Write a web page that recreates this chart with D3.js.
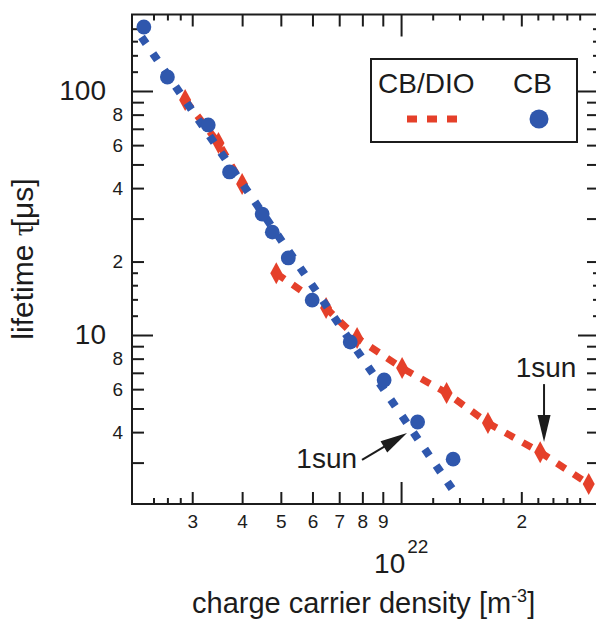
<!DOCTYPE html>
<html>
<head>
<meta charset="utf-8">
<script src="https://cdn.jsdelivr.net/npm/d3@7"></script>
<style>
  body { margin: 0; background: #fff; }
  svg { display: block; }
  text { font-family: "Liberation Sans", Arial, Helvetica, sans-serif; fill: #1c1c1c; }
</style>
</head>
<body>
<svg id="chart" width="596" height="622"></svg>
<script>
// CB/DIO blend: charge carrier density [m^-3] vs. lifetime [µs].
// dioSegment splits the trace into two separately connected runs.
const dioDensity  = [2.88e21, 3.49e21, 4.00e21, 4.87e21, 6.49e21, 7.76e21, 1.006e22, 1.30e22, 1.65e22, 2.23e22, 2.95e22];
const dioLifetime = [91.9, 61.2, 41.6, 17.9, 12.9, 9.72, 7.32, 5.79, 4.36, 3.31, 2.45];
const dioSegment  = [0, 0, 0, 1, 1, 1, 1, 1, 1, 1, 1];

// CB only
const cbDensity  = [2.27e21, 2.60e21, 3.29e21, 3.72e21, 4.49e21, 4.76e21, 5.22e21, 5.99e21, 7.46e21, 9.07e21, 1.10e22, 1.35e22];
const cbLifetime = [182.9, 114.1, 72.6, 46.6, 31.3, 26.4, 20.7, 13.9, 9.36, 6.54, 4.40, 3.10];

// power-law fit to the CB data (end points of the fitted line)
const cbFitDensity  = [2.24e21, 1.365e22];
const cbFitLifetime = [166.4, 2.25];

// one-sun operating points marked by arrows
const sunLabels   = ["1sun", "1sun"];
const sunDensity  = [1.035e22, 2.28e22];
const sunLifetime = [3.97, 3.64];

// axis ticks
const xMajorTicks  = [1e22];
const xMidTicks    = [3e21, 4e21, 5e21, 6e21, 7e21, 8e21, 9e21, 2e22];
const xMidLabels   = ["3", "4", "5", "6", "7", "8", "9", "2"];
const xMinorTicks  = [2.4e21, 2.6e21, 2.8e21, 1.2e22, 1.4e22, 1.6e22, 1.8e22, 2.2e22, 2.4e22, 2.6e22, 2.8e22];
const yMajorTicks  = [10, 100];
const yMajorLabels = ["10", "100"];
const yMidTicks    = [3, 4, 5, 6, 7, 8, 9, 20, 30, 40, 50, 60, 70, 80, 90];
const yMidLabels   = ["", "4", "", "6", "", "8", "", "2", "", "4", "", "6", "", "8", ""];
const yMinorTicks  = [12, 14, 16, 18, 120, 140, 160, 180];

const RED = "#e5402a", BLUE = "#2f57ad", INK = "#1c1c1c";

const svg = d3.select("#chart");
const plotLeft = 132, plotRight = 599, plotTop = 14.5, plotBottom = 504;

const x = d3.scaleLog().domain([2.12e21, 3.13e22]).range([plotLeft, plotRight]);
const y = d3.scaleLog().domain([2.03, 205.8]).range([plotBottom, plotTop]);

// ---- axes (ticks on all four sides, pointing inward) ----
function styleAxis(g) {
  g.select(".domain").remove();
  g.selectAll(".tick line").attr("stroke", INK).attr("stroke-width", 2);
}

function tickFmt(values, labels) {
  return d => { const i = values.indexOf(d); return i < 0 ? "" : labels[i]; };
}

// bottom
svg.append("g").attr("transform", `translate(0,${plotBottom})`)
  .call(d3.axisBottom(x).tickValues(xMajorTicks).tickSize(-22).tickFormat(""))
  .call(styleAxis);
svg.append("g").attr("transform", `translate(0,${plotBottom})`)
  .call(d3.axisBottom(x).tickValues(xMidTicks).tickSize(-12).tickPadding(11)
    .tickFormat(tickFmt(xMidTicks, xMidLabels)))
  .call(styleAxis)
  .call(g => g.selectAll("text").style("font-size", "19px").attr("fill", INK));
svg.append("g").attr("transform", `translate(0,${plotBottom})`)
  .call(d3.axisBottom(x).tickValues(xMinorTicks).tickSize(-6).tickFormat(""))
  .call(styleAxis);

// top (mirror)
[[xMajorTicks, 22], [xMidTicks, 12], [xMinorTicks, 6]].forEach(([vals, len]) => {
  svg.append("g").attr("transform", `translate(0,${plotTop})`)
    .call(d3.axisTop(x).tickValues(vals).tickSize(-len).tickFormat(""))
    .call(styleAxis);
});

// left
svg.append("g").attr("transform", `translate(${plotLeft},0)`)
  .call(d3.axisLeft(y).tickValues(yMajorTicks).tickSize(-21).tickPadding(26)
    .tickFormat(tickFmt(yMajorTicks, yMajorLabels)))
  .call(styleAxis)
  .call(g => g.selectAll("text").style("font-size", "28px").attr("fill", INK));
svg.append("g").attr("transform", `translate(${plotLeft},0)`)
  .call(d3.axisLeft(y).tickValues(yMidTicks).tickSize(-12).tickPadding(9)
    .tickFormat(tickFmt(yMidTicks, yMidLabels)))
  .call(styleAxis)
  .call(g => g.selectAll("text").style("font-size", "19px").attr("fill", INK));
svg.append("g").attr("transform", `translate(${plotLeft},0)`)
  .call(d3.axisLeft(y).tickValues(yMinorTicks).tickSize(-6).tickFormat(""))
  .call(styleAxis);

// right (mirror)
[[yMajorTicks, 21], [yMidTicks, 12], [yMinorTicks, 6]].forEach(([vals, len]) => {
  svg.append("g").attr("transform", `translate(${plotRight},0)`)
    .call(d3.axisRight(y).tickValues(vals).tickSize(-len).tickFormat(""))
    .call(styleAxis);
});

// frame
svg.append("rect")
  .attr("x", plotLeft).attr("y", plotTop)
  .attr("width", plotRight - plotLeft).attr("height", plotBottom - plotTop)
  .attr("fill", "none").attr("stroke", INK).attr("stroke-width", 2);

// ---- axis titles ----
const xt = svg.append("text").attr("x", 192).attr("y", 613).style("font-size", "29px");
xt.append("tspan").text("charge carrier density [m");
xt.append("tspan").attr("dy", -11).style("font-size", "18px").text("-3");
xt.append("tspan").attr("dy", 11).text("]");

const dec = svg.append("text").attr("x", x(1e22) - 27).attr("y", 573).style("font-size", "28px");
dec.append("tspan").text("10");
dec.append("tspan").attr("dy", -20).attr("dx", 2).style("font-size", "19px").text("22");

const yt = svg.append("text")
  .attr("transform", "translate(33,259) rotate(-90)")
  .attr("text-anchor", "middle")
  .style("font-size", "30px");
yt.append("tspan").text("lifetime ");
yt.append("tspan").style("font-family", "'Liberation Serif', 'DejaVu Serif', serif").text("τ");
yt.append("tspan").attr("dx", -3).text("[μs]");

// ---- data ----
const dio = dioDensity.map((n, i) => ({ n, t: dioLifetime[i], s: dioSegment[i] }));
const cb = cbDensity.map((n, i) => ({ n, t: cbLifetime[i] }));
const cbFit = cbFitDensity.map((n, i) => ({ n, t: cbFitLifetime[i] }));

const line = d3.line().x(d => x(d.n)).y(d => y(d.t));

// CB/DIO: dashed connecting lines per segment
d3.groups(dio, d => d.s).forEach(([, pts]) => {
  svg.append("path").attr("d", line(pts))
    .attr("fill", "none").attr("stroke", RED)
    .attr("stroke-width", 7).attr("stroke-dasharray", "10,10");
});

// CB/DIO: diamonds
const diamond = (cx, cy, w, h) => `M${cx},${cy - h}L${cx + w},${cy}L${cx},${cy + h}L${cx - w},${cy}Z`;
svg.append("g").selectAll("path").data(dio).join("path")
  .attr("d", d => diamond(x(d.n), y(d.t), 6, 11))
  .attr("fill", RED);

// CB: dotted fit line
svg.append("path").attr("d", line(cbFit))
  .attr("fill", "none").attr("stroke", BLUE)
  .attr("stroke-width", 8).attr("stroke-dasharray", "8,12");

// CB: circles
svg.append("g").selectAll("circle").data(cb).join("circle")
  .attr("cx", d => x(d.n)).attr("cy", d => y(d.t)).attr("r", 7.4)
  .attr("fill", BLUE);

// ---- one-sun arrows ----
function arrow(x1, y1, x2, y2) {
  const dx = x2 - x1, dy = y2 - y1, len = Math.hypot(dx, dy);
  const ux = dx / len, uy = dy / len, hl = 27, hw = 6.5;
  const bx = x2 - ux * hl, by = y2 - uy * hl;
  svg.append("line").attr("x1", x1).attr("y1", y1).attr("x2", bx + ux * 2).attr("y2", by + uy * 2)
    .attr("stroke", INK).attr("stroke-width", 2);
  svg.append("path")
    .attr("d", `M${x2},${y2}L${bx - uy * hw},${by + ux * hw}L${bx + uy * hw},${by - ux * hw}Z`)
    .attr("fill", INK);
}

// lower-left label, arrow pointing up-right
{
  const tx = x(sunDensity[0]), ty = y(sunLifetime[0]);
  arrow(tx - 45, ty + 27, tx, ty);
  svg.append("text").attr("x", tx - 50).attr("y", ty + 35)
    .attr("text-anchor", "end").style("font-size", "28px").text(sunLabels[0]);
}
// right label, arrow pointing down
{
  const tx = x(sunDensity[1]), ty = y(sunLifetime[1]);
  arrow(tx, ty - 58, tx, ty);
  svg.append("text").attr("x", tx + 2).attr("y", ty - 65)
    .attr("text-anchor", "middle").style("font-size", "28px").text(sunLabels[1]);
}

// ---- legend ----
const lg = svg.append("g");
lg.append("rect").attr("x", 371).attr("y", 59).attr("width", 206).attr("height", 83)
  .attr("fill", "#fff").attr("stroke", INK).attr("stroke-width", 2);
lg.append("text").attr("x", 378).attr("y", 93).style("font-size", "28px").text("CB/DIO");
lg.append("text").attr("x", 513).attr("y", 93).style("font-size", "28px").text("CB");
lg.append("line").attr("x1", 407).attr("x2", 457).attr("y1", 119).attr("y2", 119)
  .attr("stroke", RED).attr("stroke-width", 7).attr("stroke-dasharray", "10,10");
lg.append("circle").attr("cx", 539).attr("cy", 119).attr("r", 9.5).attr("fill", BLUE);
</script>
</body>
</html>
